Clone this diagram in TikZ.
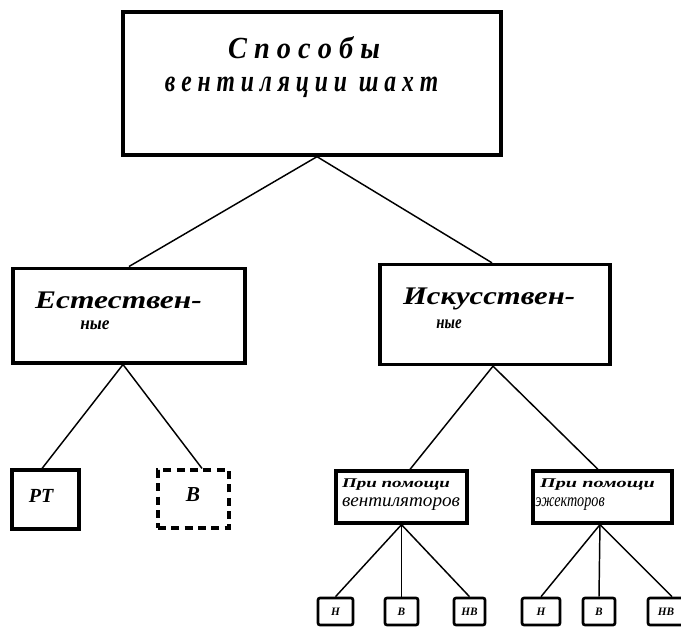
\documentclass[tikz,border=0pt]{standalone}
\usepackage{fontspec}
\newfontfamily\hand{Liberation Serif}
\newcommand\fitw[2]{\resizebox{#1}{\height}{#2}}
\begin{document}
\begin{tikzpicture}[x=0.75pt,y=-0.75pt,
  box/.style={draw, line width=2.5pt, inner sep=0pt},
  smallbox/.style={draw, line width=2pt, inner sep=0pt, rounded corners=1.5pt,
    minimum height=20.25pt, font=\hand\itshape\bfseries\fontsize{8.5}{9}\selectfont},
  link/.style={line width=1.1pt},
  txt/.style={inner sep=0pt}]
\useasboundingbox (0,0) rectangle (681,628);
\fill[white] (0,0) rectangle (681,628);

% main boxes
\node[box, minimum width=283.5pt, minimum height=107.25pt] (top) at (312,83.5) {};
\node[box, minimum width=174pt, minimum height=71pt] (nat) at (129,315.5) {};
\node[box, minimum width=172.5pt, minimum height=75pt] (art) at (495,314.5) {};

% texts of main boxes
\node[txt, font=\hand\itshape\bfseries\fontsize{23}{26}\selectfont] (t1) at (304,48) {\fitw{114pt}{С п о с о б ы}};
\node[txt, font=\hand\itshape\bfseries\fontsize{23}{26}\selectfont] (t2) at (301.5,87) {\fitw{205pt}{в е н т и л я ц и и\ \ ш а х т}};
\node[txt, font=\hand\itshape\bfseries\fontsize{19}{22}\selectfont] (n1t) at (118.5,300) {\fitw{125pt}{Естествен-}};
\node[txt, font=\hand\itshape\bfseries\fontsize{14}{17}\selectfont] (n2t) at (95,325) {\fitw{22pt}{ные}};
\node[txt, font=\hand\itshape\bfseries\fontsize{19}{22}\selectfont] (a1t) at (489,299) {\fitw{129pt}{Искусствен-}};
\node[txt, font=\hand\itshape\bfseries\fontsize{14}{17}\selectfont] (a2t) at (449,324) {\fitw{19pt}{ные}};

% second level
\node[box, line width=2.3pt, minimum width=50.25pt, minimum height=44.25pt] (rt) at (45.5,499.5) {};
\node[txt, font=\hand\itshape\bfseries\fontsize{15}{17}\selectfont] (rtt) at (41,496) {РТ};
\node[box, line width=2.3pt, dash pattern=on 6pt off 4pt, minimum width=53.25pt, minimum height=43.5pt] (vb) at (193.5,499) {};
\node[txt, font=\hand\itshape\bfseries\fontsize{16}{18}\selectfont] (vbt) at (193,495) {В};

\node[box, line width=2.5pt, minimum width=98.25pt, minimum height=39pt] (vent) at (401.5,497) {};
\node[txt, font=\hand\itshape\bfseries\fontsize{10}{12}\selectfont] (v1t) at (396,485) {\fitw{81pt}{При помощи}};
\node[txt, font=\hand\itshape\fontsize{14}{16}\selectfont] (v2t) at (401,504) {\fitw{88.5pt}{вентиляторов}};
\node[box, line width=2.5pt, minimum width=104.25pt, minimum height=39pt] (ejec) at (602.5,497) {};
\node[txt, font=\hand\itshape\bfseries\fontsize{10}{12}\selectfont] (e1t) at (597.5,485) {\fitw{86pt}{При помощи}};
\node[txt, font=\hand\itshape\fontsize{14}{16}\selectfont] (e2t) at (570,504) {\fitw{52pt}{эжекторов}};

% third level
\node[smallbox, minimum width=26.25pt] (h1) at (335.5,611.5) {Н};
\node[smallbox, minimum width=24.75pt] (b1) at (401.5,611.5) {В};
\node[smallbox, minimum width=23.25pt] (hb1) at (469.5,611.5) {НВ};
\node[smallbox, minimum width=28.5pt] (h2) at (541,611.5) {Н};
\node[smallbox, minimum width=24pt] (b2) at (599,611.5) {В};
\node[smallbox, minimum width=27pt] (hb2) at (666,611.5) {НВ};

% connectors
\draw[link] ([xshift=3.75pt]top.south) -- (nat.north);
\draw[link] ([xshift=3.75pt]top.south) -- ([xshift=-2.25pt]art.north);
\draw[link] ([xshift=-4.5pt]nat.south) -- ([xshift=-2.6pt]rt.north);
\draw[link] ([xshift=-4.5pt]nat.south) -- ([xshift=6.4pt]vb.north);
\draw[link] ([xshift=-1.5pt]art.south) -- ([xshift=6.4pt]vent.north);
\draw[link] ([xshift=-1.5pt]art.south) -- ([xshift=-3.4pt]ejec.north);
\draw[link] (vent.south) -- (h1.north);
\draw[link] (vent.south) -- (b1.north);
\draw[link] (vent.south) -- (hb1.north);
\draw[link] ([xshift=-1.9pt]ejec.south) -- (h2.north);
\draw[link] ([xshift=-1.9pt]ejec.south) -- (b2.north);
\draw[link] ([xshift=-1.9pt]ejec.south) -- ([xshift=4.5pt]hb2.north);
\end{tikzpicture}
\end{document}
